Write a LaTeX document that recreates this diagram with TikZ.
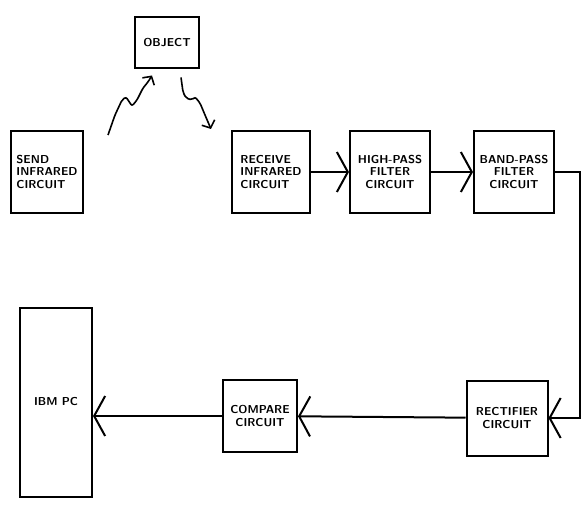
\documentclass[tikz,border=0pt]{standalone}
\usepackage{tikz}
\usetikzlibrary{arrows.meta,positioning,calc}
\tikzset{
  blk/.style ={draw,line width=2pt,align=center,inner sep=2pt,
               minimum width=80pt,minimum height=82pt,
               font=\fontsize{11.5}{12.5}\selectfont\sffamily\bfseries},
  ar/.style  ={line width=2pt,-{Straight Barb[length=11pt,width=40pt,line width=2pt]}},
  wav/.style ={line width=1.6pt,rounded corners=2pt,
               -{Straight Barb[length=6pt,width=14pt,line width=1.6pt]}},
}

\begin{document}
\begin{tikzpicture}[x=1pt,y=-1pt]
\useasboundingbox (0,0) rectangle (586,505);
% top row
\node[blk,minimum width=64pt,minimum height=51pt] (OB) at (167,43) {OBJECT};
\node[blk,minimum width=72pt,align=left] (S) at (47,172) {SEND\\INFRARED\\CIRCUIT};
\node[blk,minimum width=78pt,align=left] (R) at (271,172) {RECEIVE\\INFRARED\\CIRCUIT};
\node[blk,right=38pt of R] (HP) {HIGH-PASS\\FILTER\\CIRCUIT};
\node[blk,right=42pt of HP] (BP) {BAND-PASS\\FILTER\\CIRCUIT};
% bottom row
\node[blk,minimum width=81pt,minimum height=75pt] (RF) at (507,418) {RECTIFIER\\CIRCUIT};
\node[blk,minimum width=74pt,minimum height=72pt] (CP) at (260,416) {COMPARE\\CIRCUIT};
\node[blk,minimum width=72pt,minimum height=189pt] (PC) at (56,402) {IBM PC};
\coordinate (turn) at (580,0);
\draw[ar](R)--(HP); \draw[ar](HP)--(BP);
\draw[ar](BP.east)--(BP.east-|turn)--(RF.east-|turn)--(RF.east);
\draw[ar](RF)--(CP);
\draw[ar](CP.west)--(CP.west-|PC.east);
% infrared paths
\coordinate (w1) at (108,135);
\coordinate (w2) at ([shift={(14pt,-8pt)}]OB.south);
\draw[wav](w1)--(115,115)--(122,100)--(126,97)--(132,106)--(137,100)--(143,88)
  --(148,82)--([shift={(-15pt,-6pt)}]OB.south);
\draw[wav](w2)--(183,92)--(186,98)--(192,100)--(195,97)--(200,103)--(205,115)
  --(211,129);
\end{tikzpicture}
\end{document}
